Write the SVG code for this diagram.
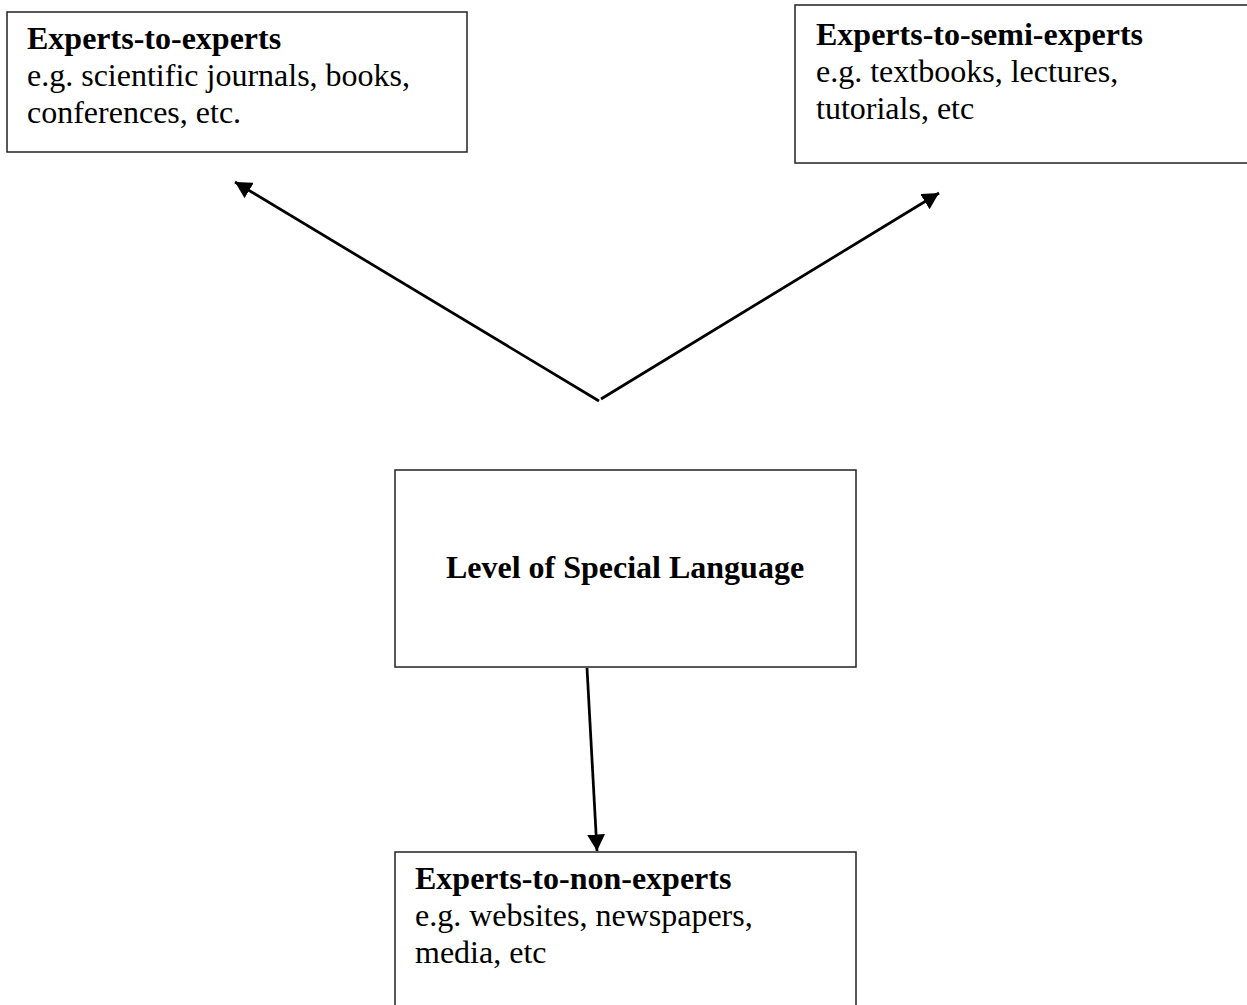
<svg xmlns="http://www.w3.org/2000/svg" width="1247" height="1005" viewBox="0 0 1247 1005">
  <style>
    .box { fill: #ffffff; stroke: #222222; stroke-width: 1.5; }
    .title { font-family: "Liberation Serif", "Times New Roman", serif; font-size: 32px; font-weight: bold; fill: #000000; }
    .body { font-family: "Liberation Serif", "Times New Roman", serif; font-size: 32px; fill: #000000; }
    .link { stroke: #000000; stroke-width: 2.75; fill: none; marker-end: url(#arrow); }
  </style>
  <defs>
    <!-- filled triangular arrowhead, tip at the line end -->
    <marker id="arrow" viewBox="0 0 12 13" refX="12" refY="6.5" markerWidth="6" markerHeight="6.5" markerUnits="strokeWidth" orient="auto">
      <path d="M0,0 L12,6.5 L0,13 Z" fill="#000000"/>
    </marker>
  </defs>
  <rect x="0" y="0" width="1247" height="1005" fill="#ffffff"/>

  <g id="experts-to-experts">
    <rect class="box" x="7" y="12" width="460" height="140"/>
    <text class="title" x="27" y="49">Experts-to-experts</text>
    <text class="body" x="27" y="86">e.g. scientific journals, books,</text>
    <text class="body" x="27" y="123">conferences, etc.</text>
  </g>

  <g id="experts-to-semi-experts">
    <rect class="box" x="795" y="5" width="470" height="158"/>
    <text class="title" x="816" y="45">Experts-to-semi-experts</text>
    <text class="body" x="816" y="82">e.g. textbooks, lectures,</text>
    <text class="body" x="816" y="119">tutorials, etc</text>
  </g>

  <g id="level-of-special-language">
    <rect class="box" x="395" y="470" width="461" height="197"/>
    <text class="title" x="625" y="578" text-anchor="middle">Level of Special Language</text>
  </g>

  <g id="experts-to-non-experts">
    <rect class="box" x="395" y="852" width="461" height="170"/>
    <text class="title" x="415" y="889">Experts-to-non-experts</text>
    <text class="body" x="415" y="926">e.g. websites, newspapers,</text>
    <text class="body" x="415" y="963">media, etc</text>
  </g>

  <g id="connectors">
    <line class="link" x1="599" y1="401" x2="235" y2="182"/>
    <line class="link" x1="601" y1="399" x2="939" y2="193"/>
    <line class="link" x1="587" y1="668" x2="597" y2="851"/>
  </g>
</svg>
